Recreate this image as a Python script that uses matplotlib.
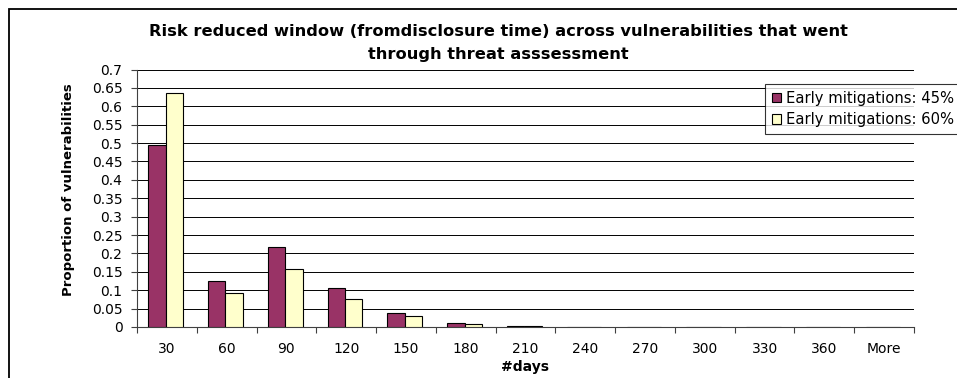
import matplotlib
matplotlib.use("Agg")
import matplotlib.pyplot as plt
from matplotlib.patches import Rectangle
import numpy as np

plt.rcParams['font.family'] = ['DejaVu Sans']

categories = ["30", "60", "90", "120", "150", "180", "210", "240", "270", "300", "330", "360", "More"]
early_45 = [0.496, 0.124, 0.217, 0.106, 0.039, 0.010, 0.002, 0, 0, 0, 0, 0, 0]
early_60 = [0.636, 0.092, 0.157, 0.075, 0.031, 0.007, 0.002, 0, 0, 0, 0, 0, 0]
series_labels = ["Early mitigations: 45%", "Early mitigations: 60%"]
yticks = [0, 0.05, 0.1, 0.15, 0.2, 0.25, 0.3, 0.35, 0.4, 0.45, 0.5, 0.55, 0.6, 0.65, 0.7]

W, H = 957, 378
fig = plt.figure(figsize=(W / 100, H / 100), dpi=100)
fig.patch.set_facecolor("white")

# chart-area frame (runs off the right and bottom edges)
fig.patches.append(Rectangle((8.5 / W, -0.2), 1.5, 1.2 - 8.5 / H,
                             transform=fig.transFigure, fill=False,
                             edgecolor="black", linewidth=1.3))

ax = fig.add_axes([137 / W, 1 - 327 / H, (914 - 137) / W, (327 - 69.5) / H])
x = np.arange(len(categories))
w = 0.29
ax.bar(x - 0.165, early_45, w, color="#993366", edgecolor="black", linewidth=0.8,
       label=series_labels[0], zorder=3)
ax.bar(x + 0.125, early_60, w, color="#FFFFCC", edgecolor="black", linewidth=0.8,
       label=series_labels[1], zorder=3)

ax.set_xlim(-0.5, len(categories) - 0.5)
ax.set_ylim(0, 0.7)
for y in yticks[1:]:
    ax.axhline(y, color="black", linewidth=0.7, zorder=1)

for s in ["top", "right"]:
    ax.spines[s].set_visible(False)
for s in ["left", "bottom"]:
    ax.spines[s].set_color("#404040")
    ax.spines[s].set_linewidth(0.8)

ax.set_yticks(yticks)
ax.set_yticklabels([f"{v:g}" for v in yticks])
ax.tick_params(axis="y", length=4, width=0.8, labelsize=10, pad=6.5, color="#404040")

ax.set_xticks(np.arange(-0.5, len(categories), 1.0))
ax.set_xticklabels([])
ax.tick_params(axis="x", which="major", length=4, width=0.8, color="#404040")
ax.set_xticks(x, minor=True)
ax.set_xticklabels(categories, minor=True)
ax.tick_params(axis="x", which="minor", length=0, labelsize=10, pad=10.5)

ax.set_xlabel("#days", fontsize=10, fontweight="bold")
ax.xaxis.set_label_coords(0.5, -0.128)
ax.set_ylabel("Proportion of vulnerabilities", fontsize=9.5, fontweight="bold")
ax.yaxis.set_label_coords(-0.0798, 0.535)

title_kw = dict(ha="center", va="center", fontsize=11.7, fontweight="bold")
fig.text(498 / W, 1 - 32 / H,
         "Risk reduced window (fromdisclosure time) across vulnerabilities that went", **title_kw)
fig.text(498 / W, 1 - 54 / H, "through threat asssessment", **title_kw)

leg = fig.legend(loc="upper left", bbox_to_anchor=(765 / W, 1 - 84 / H),
                 fontsize=10.6, frameon=True, fancybox=False, handlelength=0.62,
                 handleheight=0.62, handletextpad=0.35, borderpad=0.45,
                 labelspacing=0.45, borderaxespad=0)
leg.get_frame().set_edgecolor("black")
leg.get_frame().set_linewidth(0.8)

fig.savefig("out.png", dpi=100)
